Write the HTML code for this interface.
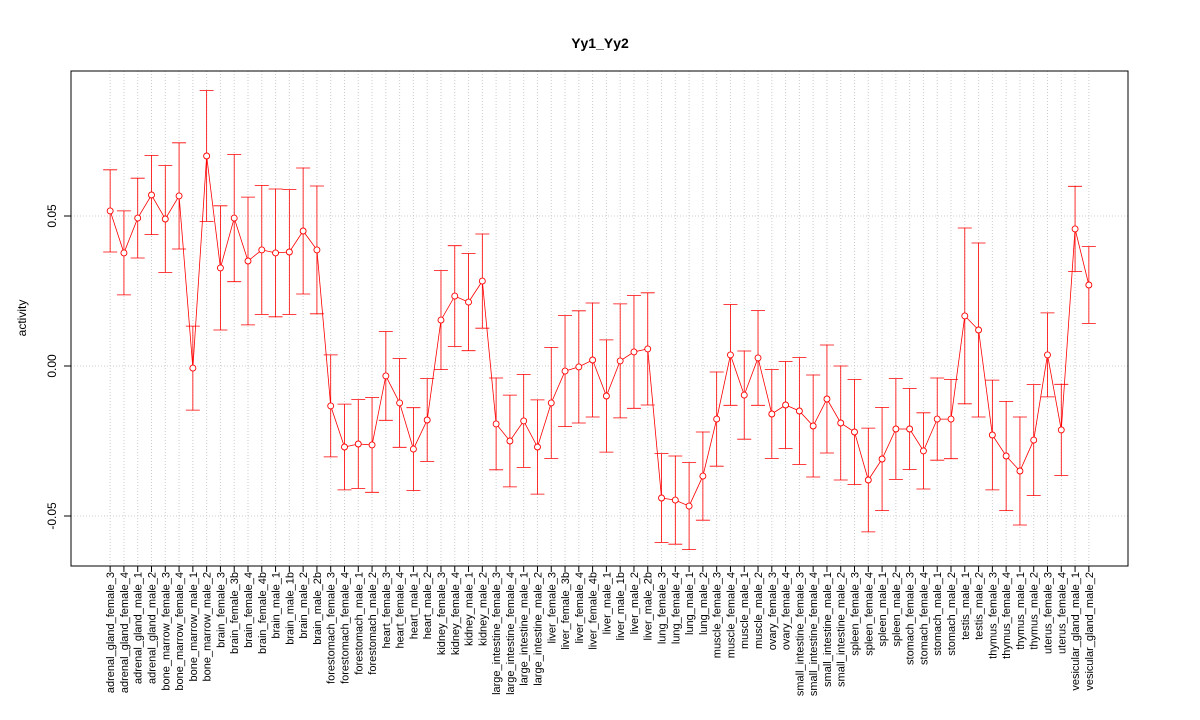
<!DOCTYPE html>
<html><head><meta charset="utf-8"><style>
body{margin:0;background:#fff}
svg{display:block;font-family:"Liberation Sans",Arial,sans-serif}
</style></head><body>
<svg id="chart" width="1200" height="720" xmlns="http://www.w3.org/2000/svg">
<text x="600" y="48" text-anchor="middle" font-size="14" font-weight="bold">Yy1_Yy2</text>
<text transform="translate(26,318) rotate(-90)" text-anchor="middle" font-size="12">activity</text>
<g id="grid"></g><g id="axes"></g><g id="marks"></g>
<rect x="71" y="71" width="1057" height="495" fill="none" stroke="#000"/>
</svg>
<script>
const categories=["adrenal_gland_female_3","adrenal_gland_female_4","adrenal_gland_male_1","adrenal_gland_male_2","bone_marrow_female_3","bone_marrow_female_4","bone_marrow_male_1","bone_marrow_male_2","brain_female_3","brain_female_3b","brain_female_4","brain_female_4b","brain_male_1","brain_male_1b","brain_male_2","brain_male_2b","forestomach_female_3","forestomach_female_4","forestomach_male_1","forestomach_male_2","heart_female_3","heart_female_4","heart_male_1","heart_male_2","kidney_female_3","kidney_female_4","kidney_male_1","kidney_male_2","large_intestine_female_3","large_intestine_female_4","large_intestine_male_1","large_intestine_male_2","liver_female_3","liver_female_3b","liver_female_4","liver_female_4b","liver_male_1","liver_male_1b","liver_male_2","liver_male_2b","lung_female_3","lung_female_4","lung_male_1","lung_male_2","muscle_female_3","muscle_female_4","muscle_male_1","muscle_male_2","ovary_female_3","ovary_female_4","small_intestine_female_3","small_intestine_female_4","small_intestine_male_1","small_intestine_male_2","spleen_female_3","spleen_female_4","spleen_male_1","spleen_male_2","stomach_female_3","stomach_female_4","stomach_male_1","stomach_male_2","testis_male_1","testis_male_2","thymus_female_3","thymus_female_4","thymus_male_1","thymus_male_2","uterus_female_3","uterus_female_4","vesicular_gland_male_1","vesicular_gland_male_2"];
const means=[.0517,.0377,.0493,.0570,.0490,.0567,-.0007,.0700,.0327,.0493,.0350,.0387,.0377,.0380,.0450,.0387,-.0133,-.0270,-.0260,-.0263,-.0033,-.0123,-.0277,-.0180,.0153,.0233,.0213,.0283,-.0193,-.0250,-.0183,-.0270,-.0123,-.0017,-.0003,.0020,-.0100,.0017,.0047,.0057,-.0440,-.0447,-.0467,-.0367,-.0177,.0037,-.0097,.0027,-.0160,-.0130,-.0150,-.0200,-.0110,-.0190,-.0220,-.0380,-.0310,-.0210,-.0210,-.0283,-.0177,-.0177,.0167,.0120,-.0230,-.0300,-.0350,-.0247,.0037,-.0213,.0457,.0270];
const errors=[.0137,.0140,.0133,.0132,.0178,.0177,.0140,.0218,.0207,.0212,.0213,.0215,.0213,.0208,.0210,.0213,.0170,.0143,.0148,.0158,.0148,.0148,.0138,.0138,.0165,.0168,.0162,.0157,.0153,.0153,.0155,.0157,.0185,.0185,.0187,.0190,.0187,.0190,.0188,.0187,.0148,.0147,.0145,.0147,.0157,.0168,.0147,.0158,.0148,.0145,.0178,.0170,.0180,.0190,.0175,.0173,.0172,.0168,.0135,.0127,.0137,.0132,.0293,.0290,.0183,.0182,.0180,.0185,.0140,.0152,.0142,.0128];
const yTicks=[-0.05,0,0.05];
const yTickLabels=["-0.05","0.00","0.05"];
const NS="http://www.w3.org/2000/svg";
const L=71,R=1128,T=71,B=566;
const n=categories.length;
const pad=(n-1)*0.04;
const xs=i=>L+((i+1)-(1-pad))/((n-1)+2*pad)*(R-L);
const ys=v=>366-v*3000;
function mk(tag,attrs,parent){const e=document.createElementNS(NS,tag);for(const k in attrs)e.setAttribute(k,attrs[k]);parent.appendChild(e);return e;}
const grid=document.getElementById('grid'),axes=document.getElementById('axes'),marks=document.getElementById('marks');
yTicks.forEach((t,i)=>{
  const g=mk('line',{x1:L,x2:R,y1:ys(t),y2:ys(t),stroke:'#ccc','stroke-dasharray':'1,2'},grid);
  
  
  const tk=mk('line',{x1:L-7,x2:L,y1:ys(t),y2:ys(t),stroke:'#000'},axes);
  
  
  const tx=mk('text',{transform:`translate(56,${ys(t)}) rotate(-90)`,'text-anchor':'middle','font-size':12},axes);
  tx.textContent=yTickLabels[i];
  
  
});
mk('line',{x1:L,x2:L,y1:ys(0.05),y2:ys(-0.05),stroke:'#000'},axes);
categories.forEach((c,i)=>{
  const x=xs(i);
  const g=mk('line',{x1:x,x2:x,y1:T,y2:B,stroke:'#ccc','stroke-dasharray':'1,2'},grid);
  
  
  const tk=mk('line',{x1:x,x2:x,y1:B,y2:B+6,stroke:'#000'},axes);
  
  
  const tx=mk('text',{transform:`translate(${x+4},572) rotate(-90)`,'text-anchor':'end','font-size':11},axes);
  tx.textContent=c;
  
  
});
const pts=means.map((m,i)=>xs(i)+','+ys(m)).join(' ');
const line=mk('polyline',{points:pts,fill:'none',stroke:'#f00','stroke-width':0.8},marks);


means.forEach((m,i)=>{
  const x=xs(i),yu=ys(m+errors[i]),yl=ys(m-errors[i]);
  const eb=mk('path',{d:`M${x},${yu}V${yl}M${x-7},${yu}H${x+7}M${x-7},${yl}H${x+7}`,stroke:'#f00','stroke-width':0.8,fill:'none'},marks);
  
  
  const p=mk('circle',{cx:x,cy:ys(m),r:3,fill:'#fff',stroke:'#f00','stroke-width':0.9},marks);
  
  
});
</script>
</body></html>
